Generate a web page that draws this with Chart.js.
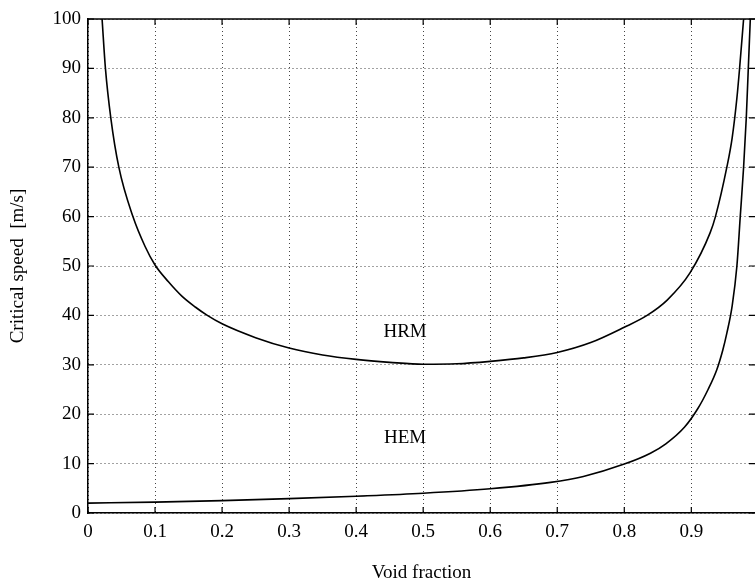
<!DOCTYPE html>
<html>
<head>
<meta charset="utf-8">
<script src="https://cdn.jsdelivr.net/npm/chart.js@4.4.0/dist/chart.umd.min.js"></script>
<style>
  html, body { margin: 0; padding: 0; background: #fff; }
  #wrap { width: 755px; height: 581px; }
</style>
</head>
<body>
<div id="wrap"><canvas id="myChart" width="755" height="581"></canvas></div>
<script>
// values
const hrmX = [0.021, 0.026, 0.034, 0.046, 0.067, 0.085, 0.1, 0.12, 0.14, 0.16, 0.178, 0.2, 0.25, 0.3, 0.35, 0.4, 0.45, 0.5, 0.55, 0.6, 0.65, 0.7, 0.75, 0.8, 0.834, 0.864, 0.898, 0.928, 0.936, 0.953, 0.961, 0.968, 0.972, 0.978];
const hrmY = [100, 90, 80, 70, 60, 54, 50.2, 46.8, 43.9, 41.7, 40, 38.3, 35.5, 33.4, 32, 31.1, 30.5, 30.1, 30.2, 30.7, 31.4, 32.5, 34.5, 37.6, 40, 43.1, 48.6, 56.7, 60, 70, 76, 84, 90, 100];

const hemX = [0, 0.1, 0.2, 0.3, 0.4, 0.5, 0.6, 0.69, 0.739, 0.8, 0.839, 0.862, 0.89, 0.91, 0.925, 0.938, 0.947, 0.953, 0.961, 0.968, 0.973, 0.978, 0.982, 0.985, 0.988];
const hemY = [2.0, 2.2, 2.5, 2.9, 3.4, 4.0, 4.9, 6.2, 7.4, 9.9, 12.1, 14.0, 17.4, 21.2, 25, 29, 33, 36.4, 42, 50, 60, 70, 80, 90, 100];

const xTicks = [0, 0.1, 0.2, 0.3, 0.4, 0.5, 0.6, 0.7, 0.8, 0.9];
const yTicks = [0, 10, 20, 30, 40, 50, 60, 70, 80, 90, 100];

const curveLabels = [
  { text: "HRM", x: 0.473, y: 36.7 },
  { text: "HEM", x: 0.473, y: 15.2 },
];

const serif = "'Liberation Serif', 'DejaVu Serif', serif";

function pts(xs, ys) {
  return xs.map((x, i) => ({ x: x, y: ys[i] }));
}

// frame, inward ticks and curve names
const framePlugin = {
  id: "frame",
  afterDraw(chart) {
    const c = chart.ctx;
    const a = chart.chartArea;
    const xs = chart.scales.x;
    const ys = chart.scales.y;
    c.save();
    c.strokeStyle = "#000";
    c.lineWidth = 1.5;
    c.beginPath();
    c.moveTo(a.left, a.top);
    c.lineTo(a.right, a.top);
    c.stroke();
    c.lineWidth = 1.2;
    c.beginPath();
    xTicks.forEach(v => {
      const px = xs.getPixelForValue(v);
      c.moveTo(px, a.bottom); c.lineTo(px, a.bottom - 6);
      c.moveTo(px, a.top); c.lineTo(px, a.top + 6);
    });
    yTicks.forEach(v => {
      const py = ys.getPixelForValue(v);
      c.moveTo(a.left, py); c.lineTo(a.left + 6, py);
      c.moveTo(a.right, py); c.lineTo(a.right - 6, py);
    });
    c.stroke();
    c.fillStyle = "#000";
    c.font = "19px " + serif;
    c.textAlign = "center";
    c.textBaseline = "middle";
    curveLabels.forEach(l => {
      c.fillText(l.text, xs.getPixelForValue(l.x), ys.getPixelForValue(l.y));
    });
    c.restore();
  },
};

const data = {
  datasets: [
    {
      label: "HRM",
      data: pts(hrmX, hrmY),
      borderColor: "#000",
      borderWidth: 1.6,
      pointRadius: 0,
      cubicInterpolationMode: "monotone",
    },
    {
      label: "HEM",
      data: pts(hemX, hemY),
      borderColor: "#000",
      borderWidth: 1.6,
      pointRadius: 0,
      cubicInterpolationMode: "monotone",
    },
  ],
};

const options = {
  responsive: false,
  animation: false,
  layout: { padding: { top: 19, right: 0, left: 0, bottom: 0 } },
  plugins: {
    legend: { display: false },
    tooltip: { enabled: false },
  },
  scales: {
    x: {
      type: "linear",
      min: 0,
      max: 0.995,
      afterBuildTicks: s => { s.ticks = xTicks.map(v => ({ value: v })); },
      afterFit: s => { s.height = 68; },
      // border.dash sets the grid line dash in v4
      border: { display: true, color: "#000", width: 1.5, dash: [1, 3] },
      grid: { color: "#444", lineWidth: 1, drawTicks: false },
      ticks: {
        color: "#000",
        padding: 8,
        font: { family: serif, size: 19 },
        maxRotation: 0,
        callback: v => String(v),
      },
      title: {
        display: true,
        text: "Void fraction",
        color: "#000",
        font: { family: serif, size: 19 },
        padding: { top: 0, bottom: -3 },
      },
    },
    y: {
      min: 0,
      max: 100,
      afterBuildTicks: s => { s.ticks = yTicks.map(v => ({ value: v })); },
      afterFit: s => { s.width = 88; },
      border: { display: true, color: "#000", width: 1.5, dash: [1, 3] },
      grid: { color: "#444", lineWidth: 1, drawTicks: false },
      ticks: {
        color: "#000",
        padding: 7,
        font: { family: serif, size: 19 },
      },
      title: {
        display: true,
        text: "Critical speed  [m/s]",
        color: "#000",
        font: { family: serif, size: 19 },
        padding: { top: 7, bottom: 0 },
      },
    },
  },
};

const ctx = document.getElementById("myChart").getContext("2d");
const myChart = new Chart(ctx, {
  type: "line",
  data: data,
  options: options,
  plugins: [framePlugin],
});
</script>
</body>
</html>
